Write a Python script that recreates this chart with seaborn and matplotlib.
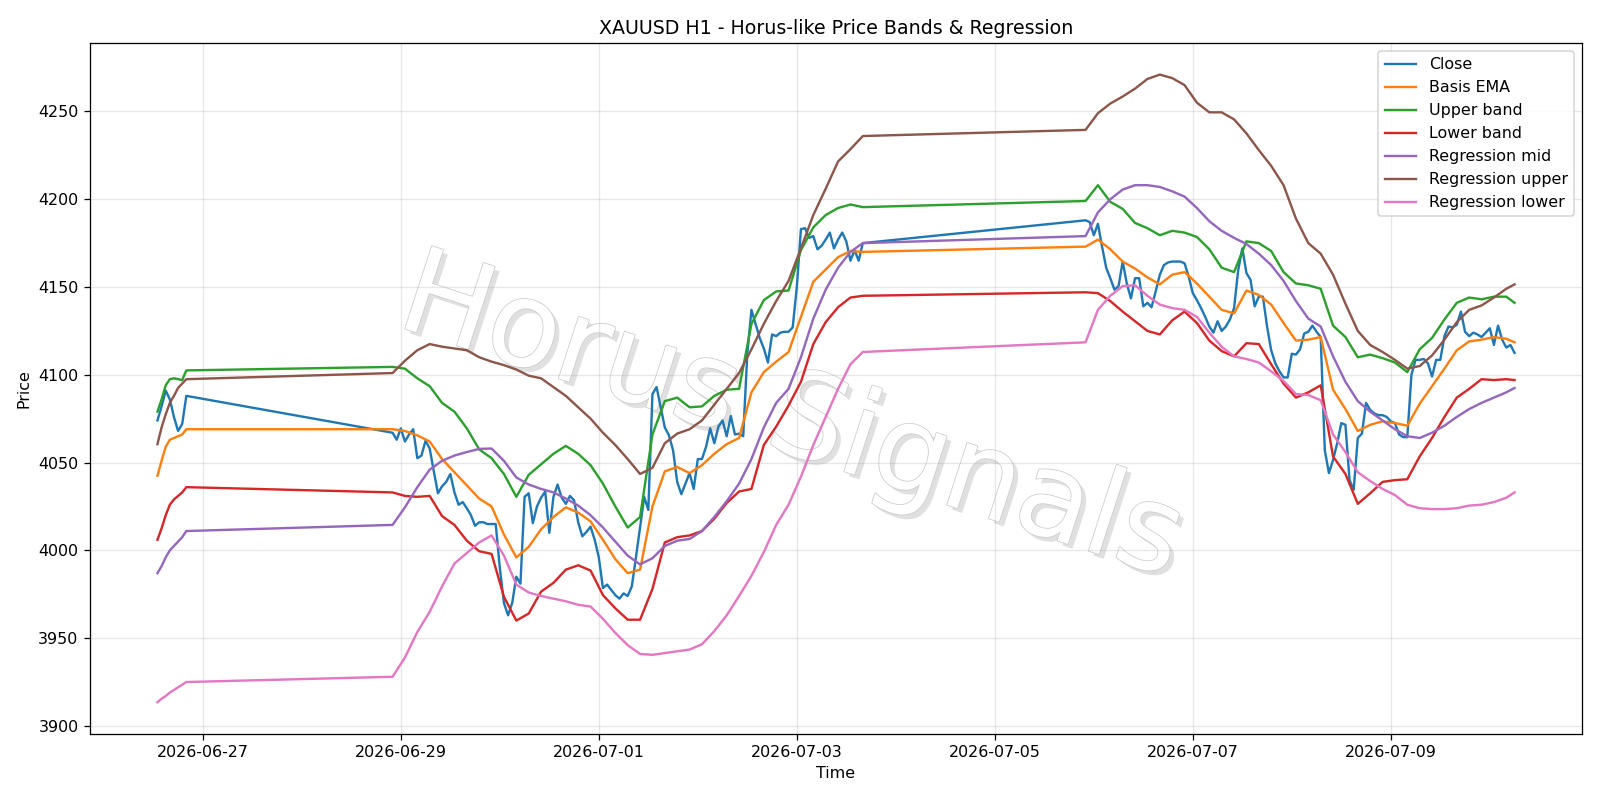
import numpy as np
import pandas as pd
import seaborn as sns
import matplotlib
matplotlib.use("Agg")
import matplotlib.pyplot as plt
import matplotlib.dates as mdates
import matplotlib.patheffects as pe

# hourly bars: Fri 26 Jun pm, 28 Jun 22:00 -> 3 Jul 16:00, 5 Jul 22:00 -> 10 Jul 06:00
close_time = (pd.date_range("2026-06-26 13:00", "2026-06-26 20:00", freq="h")
              .append(pd.date_range("2026-06-28 22:00", "2026-07-03 16:00", freq="h"))
              .append(pd.date_range("2026-07-05 22:00", "2026-07-10 06:00", freq="h")))

# band / regression lines
band_time = (pd.date_range("2026-06-26 13:00", "2026-06-26 20:00", freq="h")
             .append(pd.date_range("2026-06-28 22:00", "2026-07-03 16:00", freq="3h"))
             .append(pd.date_range("2026-07-05 22:00", "2026-07-10 04:00", freq="3h"))
             .append(pd.DatetimeIndex(["2026-07-10 06:00"])))

close = [4074, 4082, 4091, 4086, 4076, 4068, 4072, 4088,
         4067, 4063, 4069.5, 4062, 4066, 4069, 4052.5, 4054, 4062.5, 4058,
         4045, 4032.5, 4036.5, 4039, 4043.5, 4033, 4026, 4027.5, 4024, 4020,
         4014, 4016, 4016, 4015, 4015, 4015, 3990, 3970, 3963, 3970,
         3985, 3981, 4030.5, 4032.5, 4015.5, 4025, 4030, 4033.5, 4010, 4030.5,
         4037.5, 4030, 4026.5, 4031, 4028.5, 4016, 4008, 4010.5, 4013.5, 4006,
         3996, 3978.5, 3980.5, 3977.5, 3974.5, 3972.5, 3975.5, 3974, 3979.5, 3996,
         4013, 4030.5, 4023, 4089, 4093, 4081.5, 4070, 4065.5, 4057, 4039,
         4032, 4038, 4044, 4035, 4052, 4052, 4059, 4069.5, 4061, 4070.5,
         4074, 4065, 4076.5, 4066, 4066.5, 4065, 4112, 4137, 4129, 4121,
         4115, 4107, 4123, 4122, 4124, 4124.5, 4124.5, 4127, 4150, 4183,
         4183.5, 4178, 4179, 4171.5, 4173.5, 4177, 4181, 4172, 4177, 4181,
         4176, 4165, 4171, 4165, 4175,
         4188, 4187, 4179.5, 4186, 4173, 4161, 4155, 4148.5, 4150.5, 4164.5,
         4152, 4143.5, 4155, 4155, 4139, 4141, 4138.5, 4147.5, 4157, 4162.5,
         4164, 4164.5, 4164.5, 4164.5, 4163.5, 4156, 4146.5, 4142.5, 4138, 4133,
         4127.5, 4124, 4130.5, 4125, 4127.5, 4131.5, 4138, 4159.5, 4172, 4158,
         4154, 4139, 4144.5, 4144.5, 4127.5, 4114, 4106.5, 4102, 4098.5, 4098.5,
         4112, 4111.5, 4114.5, 4123.5, 4124.5, 4128, 4124.5, 4121.5, 4057, 4044,
         4051.5, 4061, 4072.5, 4071.5, 4040, 4034.5, 4064, 4066.5, 4084, 4080,
         4078, 4077, 4077, 4076, 4073.5, 4072.5, 4066, 4064.5, 4064.5, 4100,
         4108.5, 4108.5, 4109, 4106.5, 4099, 4108.5, 4108.5, 4122, 4127.5, 4127,
         4128.5, 4136, 4124.5, 4122, 4124, 4123, 4121.5, 4124, 4126.5, 4117,
         4128, 4120, 4115.5, 4117, 4112.5]

basis_ema = [4042.5, 4051, 4059, 4063, 4064, 4065, 4066, 4069,
             4069, 4068, 4065.5, 4062, 4052, 4044.5, 4037, 4029.5, 4025, 4009,
             3996, 4002, 4012, 4019, 4024.5, 4021.5, 4016.5, 4006, 3995, 3987,
             3989, 4025, 4045, 4047.5, 4044, 4048.5, 4055, 4060.5, 4064, 4090,
             4101.5, 4107.5, 4113, 4133, 4153, 4160, 4167, 4170.5, 4170,
             4173, 4177, 4171.5, 4164.5, 4160.5, 4155.5, 4151.5, 4157, 4158.5, 4152,
             4144.5, 4137, 4135, 4148, 4145.5, 4140, 4129.5, 4119.5, 4120, 4121.5,
             4091.5, 4080.5, 4068, 4071.5, 4073.5, 4072.5, 4071, 4083.5, 4093.5, 4103.5,
             4114, 4119, 4120, 4121.5, 4120.5, 4118.5]

upper_band = [4079, 4086, 4094, 4097.5, 4098, 4097.5, 4097, 4102.5,
              4104.5, 4103.5, 4098, 4093.5, 4084, 4079, 4069.5, 4057.5, 4052.5, 4043.5,
              4030.5, 4043, 4049, 4055, 4059.5, 4055, 4048.5, 4038, 4025, 4013,
              4019, 4066, 4085, 4087, 4081.5, 4082, 4088, 4091.5, 4092, 4129,
              4142.5, 4147.5, 4148, 4171, 4184, 4191, 4195, 4197, 4195.5,
              4199, 4208, 4198.5, 4194.5, 4186.5, 4183.5, 4179.5, 4182, 4181, 4178.5,
              4171.5, 4161, 4158.5, 4176, 4175, 4170.5, 4158.5, 4152, 4151, 4149,
              4128, 4121.5, 4110, 4111.5, 4109.5, 4107, 4101.5, 4114.5, 4121, 4131.5,
              4141, 4144, 4143, 4144.5, 4144.5, 4141]

lower_band = [4006, 4012.5, 4020, 4026, 4029, 4031, 4033, 4036,
              4033, 4031, 4030.5, 4031, 4019.5, 4014.5, 4005.5, 3999.5, 3998, 3973.5,
              3960, 3964, 3976.5, 3981.5, 3989, 3991.5, 3988.5, 3974.5, 3967, 3960.5,
              3960.5, 3978, 4004.5, 4007.5, 4008.5, 4011, 4018, 4027, 4033.5, 4035,
              4060, 4070.5, 4082.5, 4096, 4117.5, 4130, 4138.5, 4144, 4145,
              4147, 4146.5, 4142, 4136, 4130.5, 4125, 4123, 4131, 4136, 4129.5,
              4119.5, 4113.5, 4110.5, 4118, 4117.5, 4106, 4095, 4087, 4090, 4094,
              4053.5, 4043.5, 4026.5, 4032.5, 4039, 4040, 4040.5, 4053.5, 4064, 4076,
              4087, 4092, 4097.5, 4097, 4097.5, 4097]

reg_mid = [3987, 3991, 3996, 4000, 4002.5, 4005, 4007.5, 4011,
           4014.5, 4024.5, 4036, 4046, 4051, 4054, 4056, 4057.8, 4058, 4051,
           4041.5, 4037.5, 4035, 4033, 4029.5, 4025.5, 4020, 4013, 4005, 3997,
           3992, 3995.5, 4002.5, 4005.5, 4006.5, 4011, 4019, 4028, 4038, 4052,
           4070, 4084, 4092, 4110, 4132, 4148.5, 4161, 4170, 4175,
           4179, 4192.5, 4200, 4205.5, 4208, 4208, 4207, 4204.5, 4201.5, 4195,
           4187.5, 4182, 4178, 4174.5, 4169, 4162.5, 4153.5, 4142, 4132, 4127.5,
           4110.5, 4096, 4085, 4079, 4074, 4069, 4065, 4064, 4067, 4071,
           4076, 4080.5, 4084, 4087, 4090, 4092.5]

reg_upper = [4060.5, 4070, 4077.5, 4084, 4088, 4092.5, 4095, 4097.5,
             4101, 4108, 4114, 4117.5, 4116, 4115, 4114, 4110, 4107.5, 4105.5,
             4103, 4099.5, 4098, 4093, 4088, 4081.5, 4075, 4067, 4060, 4052,
             4043.5, 4047, 4061, 4066.5, 4069, 4074, 4083, 4092, 4101, 4114.5,
             4129, 4142, 4153.5, 4172, 4191, 4206, 4221.5, 4228.5, 4236,
             4239.5, 4249, 4254.5, 4258.5, 4263, 4268.5, 4271, 4269, 4265, 4255,
             4249.5, 4249.5, 4245.5, 4237.5, 4228, 4219, 4208, 4189, 4175, 4169,
             4157, 4140.5, 4125, 4117, 4113, 4108.5, 4103.5, 4105, 4111, 4120,
             4130, 4137, 4139.5, 4144, 4149, 4151.5]

reg_lower = [3913.5, 3915.5, 3917, 3919, 3920.5, 3922, 3923.5, 3925,
             3928, 3939, 3953.5, 3965, 3979.5, 3992.5, 3998.5, 4004.5, 4008.5, 3997,
             3980.5, 3976, 3974, 3972.5, 3971, 3969, 3968, 3961, 3953, 3946,
             3941, 3940.5, 3941.5, 3942.5, 3943.5, 3946.5, 3954, 3963, 3974, 3985.5,
             3999, 4014.5, 4026, 4042, 4060, 4076, 4092, 4106, 4113,
             4118.5, 4137, 4145, 4150.5, 4151, 4145, 4140, 4138, 4137, 4133,
             4124, 4116, 4110.5, 4109, 4107, 4102, 4096.5, 4089, 4088.5, 4085.5,
             4066, 4056, 4044.5, 4039.5, 4035, 4031.5, 4026, 4024, 4023.5, 4023.5,
             4024, 4025.5, 4026, 4027.5, 4030, 4033]

fig, ax = plt.subplots(figsize=(14, 7), dpi=800 / 7)
fig.subplots_adjust(left=0.056, right=0.989, top=0.946, bottom=0.083)

# watermark
ax.text(0.47, 0.455, "Horus Signals", transform=ax.transAxes, fontsize=75,
        rotation=-18, ha="center", va="center", color="white", zorder=0.5,
        path_effects=[pe.SimplePatchShadow(offset=(3, -3), shadow_rgbFace="#999999", alpha=0.3),
                      pe.Stroke(linewidth=1, foreground="#cccccc"), pe.Normal()])

sns.lineplot(x=close_time, y=close, ax=ax, color="C0", lw=1.5, label="Close")
sns.lineplot(x=band_time, y=basis_ema, ax=ax, color="C1", lw=1.5, label="Basis EMA")
sns.lineplot(x=band_time, y=upper_band, ax=ax, color="C2", lw=1.5, label="Upper band")
sns.lineplot(x=band_time, y=lower_band, ax=ax, color="C3", lw=1.5, label="Lower band")
sns.lineplot(x=band_time, y=reg_mid, ax=ax, color="C4", lw=1.5, label="Regression mid")
sns.lineplot(x=band_time, y=reg_upper, ax=ax, color="C5", lw=1.5, label="Regression upper")
sns.lineplot(x=band_time, y=reg_lower, ax=ax, color="C6", lw=1.5, label="Regression lower")

ticks = pd.date_range("2026-06-27", "2026-07-09", freq="2D")
ax.set_xticks(ticks)
ax.xaxis.set_major_formatter(mdates.DateFormatter("%Y-%m-%d"))
ax.grid(True, alpha=0.3)
ax.set_title("XAUUSD H1 - Horus-like Price Bands & Regression")
ax.set_xlabel("Time")
ax.set_ylabel("Price")
ax.legend(loc="upper right")

fig.savefig("out.png")
